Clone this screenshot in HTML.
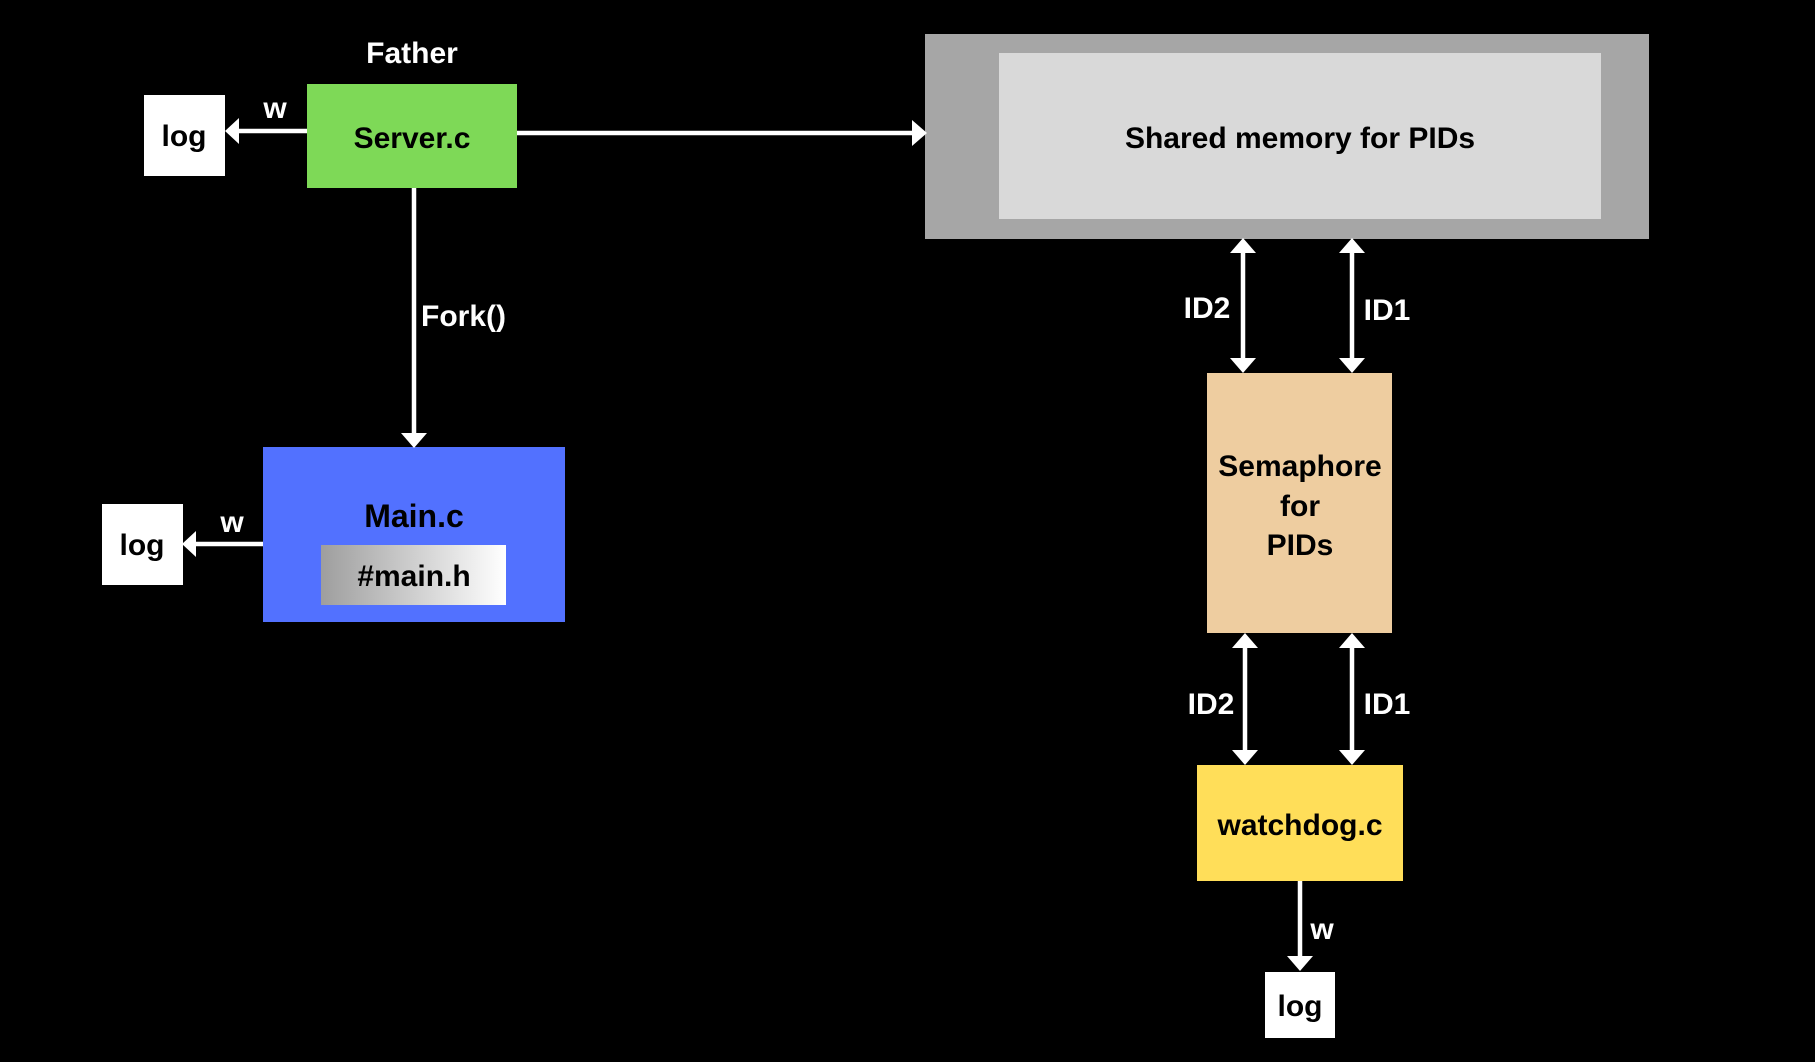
<!DOCTYPE html>
<html><head><meta charset="utf-8"><style>
html,body{margin:0;padding:0;background:#000;}
svg{display:block}
text{font-family:"Liberation Sans","DejaVu Sans",sans-serif;font-weight:bold;}
</style></head><body>
<svg width="1815" height="1062" viewBox="0 0 1815 1062" xmlns="http://www.w3.org/2000/svg">
<defs>
<linearGradient id="g" x1="0" x2="1" y1="0" y2="0"><stop offset="0" stop-color="#9e9e9e"/><stop offset="1" stop-color="#ffffff"/></linearGradient>
</defs>
<rect width="1815" height="1062" fill="#000"/>
<rect x="144" y="95" width="81" height="81" fill="#fff"/>
<rect x="307" y="84" width="210" height="104" fill="#7ed957"/>
<rect x="263" y="447" width="302" height="175" fill="#5271ff"/>
<rect x="321" y="545" width="185" height="60" fill="url(#g)"/>
<rect x="102" y="504" width="81" height="81" fill="#fff"/>
<rect x="925" y="34" width="724" height="205" fill="#a6a6a6"/>
<rect x="999" y="53" width="602" height="166" fill="#d9d9d9"/>
<rect x="1207" y="373" width="185" height="260" fill="#eecda0"/>
<rect x="1197" y="765" width="206" height="116" fill="#ffde59"/>
<rect x="1265" y="972" width="70" height="66" fill="#fff"/>
<g stroke="#fff" stroke-width="4.5" fill="none">
<line x1="307" y1="131" x2="232" y2="131"/>
<line x1="517" y1="133" x2="918" y2="133"/>
<line x1="414" y1="188" x2="414" y2="440"/>
<line x1="263" y1="544" x2="189" y2="544"/>
<line x1="1243" y1="245" x2="1243" y2="366"/>
<line x1="1352" y1="245" x2="1352" y2="366"/>
<line x1="1245" y1="640" x2="1245" y2="758"/>
<line x1="1352" y1="640" x2="1352" y2="758"/>
<line x1="1300" y1="881" x2="1300" y2="963"/>
</g>
<g fill="#fff">
<polygon points="225,131 239,118 239,144"/>
<polygon points="927,133 912,120 912,146"/>
<polygon points="414,448 401,433 427,433"/>
<polygon points="182,544 196,531 196,557"/>
<polygon points="1243,238 1230,253 1256,253"/><polygon points="1243,373 1230,358 1256,358"/>
<polygon points="1352,238 1339,253 1365,253"/><polygon points="1352,373 1339,358 1365,358"/>
<polygon points="1245,633 1232,648 1258,648"/><polygon points="1245,765 1232,750 1258,750"/>
<polygon points="1352,633 1339,648 1365,648"/><polygon points="1352,765 1339,750 1365,750"/>
<polygon points="1300,971 1287,956 1313,956"/>
</g>
<g font-size="30" text-anchor="middle" fill="#000">
<text x="184" y="146">log</text>
<text x="142" y="555">log</text>
<text x="1300" y="1016">log</text>
<text x="412" y="148">Server.c</text>
<text x="414" y="527" font-size="32">Main.c</text>
<text x="414" y="586">#main.h</text>
<text x="1300" y="148">Shared memory for PIDs</text>
<text x="1300" y="476">Semaphore</text>
<text x="1300" y="516">for</text>
<text x="1300" y="555">PIDs</text>
<text x="1300" y="835">watchdog.c</text>
</g>
<g font-size="30" fill="#fff" text-anchor="middle">
<text x="412" y="63">Father</text>
<text x="275" y="118">w</text>
<text x="232" y="532">w</text>
<text x="1322" y="939">w</text>
<text x="421" y="326" text-anchor="start">Fork()</text>
<text x="1207" y="318">ID2</text>
<text x="1387" y="320">ID1</text>
<text x="1211" y="714">ID2</text>
<text x="1387" y="714">ID1</text>
</g>
</svg>
</body></html>
